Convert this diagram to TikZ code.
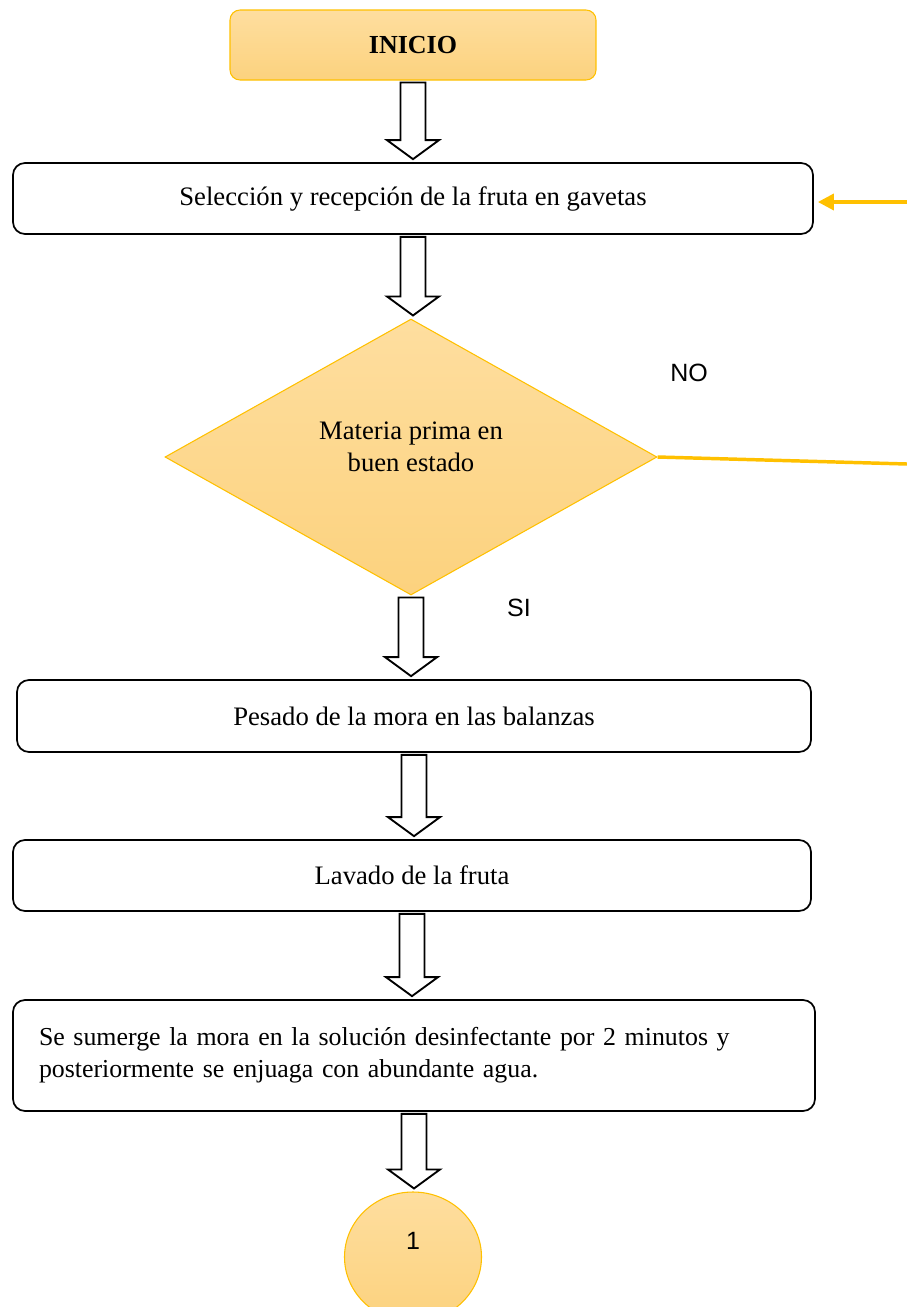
\documentclass[tikz,border=0pt]{standalone}
\usepackage{fontspec}
\setmainfont{Liberation Serif}
\newfontfamily\arial{Liberation Sans}
\usetikzlibrary{shapes.geometric}
\usetikzlibrary{arrows.meta}
\usetikzlibrary{calc}
\definecolor{naranja}{HTML}{FFC000}
\definecolor{crema}{HTML}{FEDE9F}
\definecolor{cremaosc}{HTML}{FCD27E}
\tikzset{caja/.style = {draw, rounded corners = 9pt, line width = 1.3pt,
                        minimum height = 53.25pt, inner sep = 0,
                        font = \fontsize{20}{24}\selectfont}}
\tikzset{relleno/.style = {draw = naranja, line width = 0.8pt,
                           top color = crema, bottom color = cremaosc}}
\tikzset{decision/.style = {relleno, diamond, inner sep = 0,
                            minimum width = 369pt, minimum height = 207pt,
                            font = \fontsize{20}{24}\selectfont}}
\tikzset{conector/.style = {relleno, ellipse, inner sep = 0,
                            minimum width = 102.75pt, minimum height = 97.5pt,
                            font = \arial\fontsize{18.75}{22}\selectfont}}
\tikzset{etiqueta/.style = {font = \arial\fontsize{18.75}{22}\selectfont}}
\tikzset{bloque/.style = {draw, line width = 1.4pt, fill = white, line join = miter}}
\tikzset{retorno/.style = {draw = naranja, line width = 2.6pt}}
\newcommand{\flecha}[2]{%
  \coordinate (ini) at ($(#1.south)+(0,2)$);
  \coordinate (fin) at ($(ini |- #2.north)+(0,-3)$);
  \draw [bloque] ($(ini)+(-12.5,0)$) -- ($(fin)+(-12.5,-19)$) -- ($(fin)+(-26,-19)$)
    -- (fin) -- ($(fin)+(26,-19)$) -- ($(fin)+(12.5,-19)$) -- ($(ini)+(12.5,0)$) -- cycle;}

\begin{document}
\begin{tikzpicture}[x=0.75pt, y=-0.75pt]
    \useasboundingbox (0,0) rectangle (907,1307);

    \node [relleno, rounded corners = 7.5pt, minimum width = 274.5pt, minimum height = 52.5pt,
           font = \bfseries\fontsize{19.5}{22}\selectfont] (inicio) at (413,45) {INICIO};
    \node [caja, minimum width = 600pt] (sel) at (413,198.5) {Selección y recepción de la fruta en gavetas};
    \node [decision] (mat) at (411,457)
          {\raisebox{6pt}[\height][\depth]{\begin{tabular}{@{}c@{}}Materia prima en\\buen estado\end{tabular}}};
    \node [caja, minimum width = 595.5pt, minimum height = 54pt] (pes) at (414,716) {Pesado de la mora en las balanzas};
    \node [caja, minimum width = 598.5pt] (lav) at (412,875.5) {Lavado de la fruta};
    \node [caja, minimum width = 601.5pt, minimum height = 83.25pt, text width = 562.5pt,
           inner xsep = 19.5pt, align = left, font = \fontsize{19.4}{24}\selectfont] (sum) at (414,1055.5)
          {Se sumerge la mora en la solución desinfectante por 2 minutos y\\
           posteriormente se enjuaga con abundante agua.};
    \node [conector] (uno) at (413,1257) {\raisebox{5.3pt}[0pt][0pt]{1}};

    \node [etiqueta] (no) at (689,373) {NO};
    \node [etiqueta] (si) at (519,608) {SI};

    \flecha{inicio}{sel}
    \flecha{sel}{mat}
    \flecha{mat}{pes}
    \flecha{pes}{lav}
    \flecha{lav}{sum}
    \flecha{sum}{uno}

    % vuelta a la seleccion
    \coordinate (c1) at (907,464);
    \coordinate (c2) at (907,202);
    \draw [retorno] (mat.east) -- (c1);
    \draw [retorno, -{Triangle[length=12pt, width=12pt]}, shorten >= 3pt] (c2) -- (c2 -| sel.east);

\end{tikzpicture}
\end{document}
